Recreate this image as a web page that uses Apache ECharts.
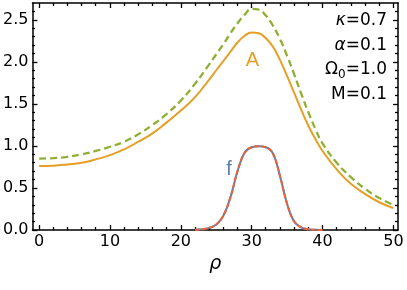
<!DOCTYPE html>
<html><head><meta charset="utf-8">
<script src="https://cdn.jsdelivr.net/npm/echarts@6/dist/echarts.min.js"></script>
<style>html,body{margin:0;padding:0;background:#fff}#c{width:407px;height:290px}</style>
</head><body><div id="c"></div><script>
// ---- data ----
const rho = [0,2,4,6,8,10,12,14,16,18,20,22,24,25,26,27,28,29,30,31,32,33,34,35,36,37,38,39,40,42,44,46,48,50];
const ampA = [0.76,0.765,0.78,0.80,0.84,0.89,0.96,1.05,1.15,1.28,1.42,1.58,1.79,1.90,2.01,2.12,2.23,2.31,2.35,2.34,2.28,2.18,2.02,1.83,1.63,1.43,1.24,1.08,0.94,0.72,0.55,0.43,0.33,0.26];
const ampDashed = [0.85,0.855,0.87,0.90,0.94,0.99,1.05,1.14,1.25,1.38,1.54,1.74,1.97,2.09,2.21,2.34,2.46,2.56,2.63,2.62,2.55,2.43,2.27,2.07,1.85,1.62,1.40,1.20,1.03,0.80,0.63,0.49,0.38,0.30];
const rhoF = [22,23,24,25,26,27,28,29,30,31,32,33,34,35,36,37,38,39,40];
const fSolid = [0.002,0.008,0.025,0.065,0.17,0.39,0.70,0.92,0.985,0.995,0.985,0.91,0.64,0.31,0.10,0.03,0.008,0.002,0];
const fDashed = [0.002,0.008,0.025,0.065,0.17,0.39,0.70,0.92,0.985,0.995,0.985,0.91,0.64,0.31,0.10,0.03,0.008,0.002,0];
const xMajor = [0,10,20,30,40,50];
const xMinor = [2,4,6,8,12,14,16,18,22,24,26,28,32,34,36,38,42,44,46,48];
const yMajor = [0,0.5,1.0,1.5,2.0,2.5];
const yMinor = [0.1,0.2,0.3,0.4,0.6,0.7,0.8,0.9,1.1,1.2,1.3,1.4,1.6,1.7,1.8,1.9,2.1,2.2,2.3,2.4,2.6];
const curveLabelText = ['A','f'];
const curveLabelAt = [[30.1,2.02],[26.8,0.72]];
const params = ['{i|κ}=0.7','{i|α}=0.1','Ω{s|0}=1.0','M=0.1'];

// ---- styles ----
const C = {orange:'#E69F24', green:'#8FB032', blue:'#5E81B5', red:'#EB6235'};
const FONT = '"DejaVu Sans", "Liberation Sans", sans-serif';
const X = {min:-0.95, max:50.65};
const Y = {min:0, max:2.7};
const gridPos = {left:32, right:9, top:3, bottom:60};

function xAx(grid, pos, ticks, len, main){
  return {type:'value', gridIndex:grid, position:pos, min:X.min, max:X.max,
    axisLine:{show:main, onZero:false, lineStyle:{color:'#000', width:1.5}},
    axisTick:{show:true, inside:true, length:len, customValues:ticks, lineStyle:{color:'#000', width:1.3}},
    axisLabel:{show:main && pos==='bottom', customValues:ticks, color:'#000', fontSize:16, fontFamily:FONT, margin:4},
    splitLine:{show:false},
    name: (main && pos==='bottom') ? 'ρ' : '', nameLocation:'middle', nameGap:21,
    nameTextStyle:{fontSize:19, fontStyle:'italic', fontFamily:FONT, color:'#000'}};
}
function yAx(grid, pos, ticks, len, main){
  return {type:'value', gridIndex:grid, position:pos, min:Y.min, max:Y.max,
    axisLine:{show:main, onZero:false, lineStyle:{color:'#000', width:1.5}},
    axisTick:{show:true, inside:true, length:len, customValues:ticks, lineStyle:{color:'#000', width:1.3}},
    axisLabel:{show:main && pos==='left', customValues:ticks, color:'#000', fontSize:16, fontFamily:FONT, margin:4,
      formatter:v=>v.toFixed(1)},
    splitLine:{show:false}};
}

const chart = echarts.init(document.getElementById('c'), null, {renderer:'canvas'});
const zip = (xs, ys) => xs.map((x,i)=>[x, ys[i]]);
chart.setOption({
  animation:false,
  backgroundColor:'#fff',
  grid:[Object.assign({}, gridPos), Object.assign({}, gridPos)],
  xAxis:[xAx(0,'bottom',xMajor,5,true), xAx(0,'top',xMajor,5,true), xAx(1,'bottom',xMinor,3,false), xAx(1,'top',xMinor,3,false)],
  yAxis:[yAx(0,'left',yMajor,5,true), yAx(0,'right',yMajor,5,true), yAx(1,'left',yMinor,3,false), yAx(1,'right',yMinor,3,false)],
  series:[
    {type:'line', xAxisIndex:0, yAxisIndex:0, data:zip(rho, ampDashed), symbol:'none', smooth:0.5,
      lineStyle:{color:C.green, width:2.3, type:[7,4]}, z:3},
    {type:'line', xAxisIndex:0, yAxisIndex:0, data:zip(rho, ampA), symbol:'none', smooth:0.5,
      lineStyle:{color:C.orange, width:2}, z:4},
    {type:'line', xAxisIndex:0, yAxisIndex:0, data:zip(rhoF, fSolid), symbol:'none', smooth:0.4,
      lineStyle:{color:C.blue, width:2}, z:5},
    {type:'line', xAxisIndex:0, yAxisIndex:0, data:zip(rhoF, fDashed), symbol:'none', smooth:0.4,
      lineStyle:{color:C.red, width:2, type:[5,2]}, z:6}
  ]
});

const labelColors = [C.orange, C.blue];
const g = [];
curveLabelText.forEach((t,i)=>{
  const p = chart.convertToPixel({xAxisIndex:0, yAxisIndex:0}, curveLabelAt[i]);
  g.push({type:'text', x:p[0], y:p[1], z:10, style:{text:t, fill:labelColors[i], font:'20px "Liberation Sans", sans-serif', align:'center', verticalAlign:'middle'}});
});
params.forEach((t,i)=>{
  g.push({type:'text', x:387, y:21 + i*24.5, z:10, style:{text:t, align:'right', verticalAlign:'middle',
    fill:'#000', fontSize:17, fontFamily:FONT,
    rich:{i:{fontStyle:'italic', fontSize:17, fontFamily:FONT, fill:'#000'},
          s:{fontSize:12, fontFamily:FONT, fill:'#000', verticalAlign:'bottom', padding:[9,0,0,0]}}}});
});
chart.setOption({graphic:g});
</script></body></html>
